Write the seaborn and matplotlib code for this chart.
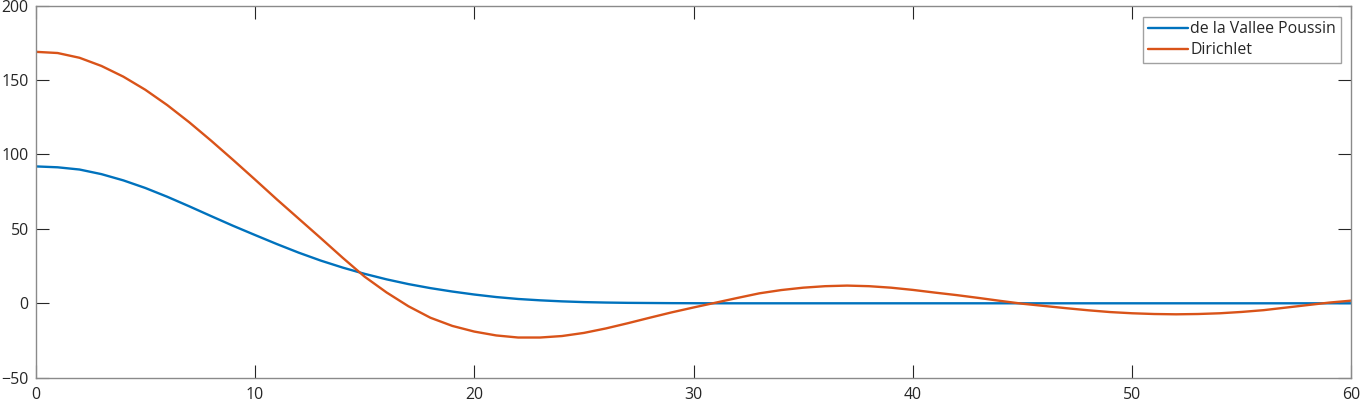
import numpy as np
import pandas as pd
import matplotlib
matplotlib.use('Agg')
import matplotlib.pyplot as plt
import seaborn as sns

# values (one sample per unit on x)
x_vals = list(range(0, 61))

poussin = [92.0, 91.4, 89.9, 86.8, 82.6, 77.5, 71.6, 65.2, 58.6, 52.1,
           45.9, 39.8, 34.0, 28.7, 24.0, 19.8, 16.1, 12.9, 10.2, 7.9,
           5.9, 4.2, 2.9, 2.0, 1.3, 0.8, 0.5, 0.3, 0.2, 0.1,
           0.05, 0.0, 0.0, 0.0, 0.0, 0.0, 0.0, 0.0, 0.0, 0.0,
           0.0, 0.0, 0.0, 0.0, 0.0, 0.0, 0.0, 0.0, 0.0, 0.0,
           0.0, 0.0, 0.0, 0.0, 0.0, 0.0, 0.0, 0.0, 0.0, 0.0, 0.0]

dirichlet = [169.0, 168.2, 165.0, 159.5, 152.3, 143.5, 133.2, 121.7, 109.3, 96.4,
             83.2, 69.8, 56.8, 43.8, 30.6, 17.9, 7.3, -2.0, -9.7, -15.2,
             -19.0, -21.6, -23.0, -23.0, -22.0, -19.9, -16.9, -13.4, -9.7, -6.1,
             -2.8, 0.4, 3.6, 6.7, 8.9, 10.5, 11.5, 11.9, 11.5, 10.5,
             9.0, 7.2, 5.5, 3.6, 1.6, -0.3, -1.8, -3.3, -4.7, -5.9,
             -6.7, -7.2, -7.4, -7.2, -6.7, -5.8, -4.6, -2.9, -1.2, 0.5, 1.8]

series_names = ['de la Vallee Poussin', 'Dirichlet']
series_colors = ['#0072BD', '#D95319']

x_ticks = [0, 10, 20, 30, 40, 50, 60]
y_ticks = [-50, 0, 50, 100, 150, 200]

sns.set_theme(style='white')
plt.rcParams['font.family'] = ['Open Sans', 'DejaVu Sans']

fig = plt.figure(figsize=(13.61, 4.04), dpi=100)
ax = fig.add_axes([0.0262, 0.0651, 0.9668, 0.9208])

sns.lineplot(x=x_vals, y=poussin, ax=ax, color=series_colors[0],
             linewidth=1.7, label=series_names[0],
             solid_joinstyle='round', solid_capstyle='round')
sns.lineplot(x=x_vals, y=dirichlet, ax=ax, color=series_colors[1],
             linewidth=1.7, label=series_names[1],
             solid_joinstyle='round', solid_capstyle='round')

ax.set_xlim(0, 60)
ax.set_ylim(-50, 200)
ax.set_xticks(x_ticks)
ax.set_yticks(y_ticks)

for side in ['left', 'right', 'top', 'bottom']:
    ax.spines[side].set_visible(True)
    ax.spines[side].set_color('#8a8a8a')
    ax.spines[side].set_linewidth(1.0)

ax.tick_params(axis='both', which='major', direction='in', length=9.5,
               width=0.8, color='#262626', labelcolor='#262626',
               labelsize=11.4, top=True, right=True, bottom=True, left=True)
ax.tick_params(axis='x', pad=7)
ax.tick_params(axis='y', pad=5)

leg = ax.legend(loc='upper right', bbox_to_anchor=(0.9918, 0.9704),
                borderaxespad=0, fontsize=11.4, frameon=True, fancybox=False,
                handlelength=2.5, handletextpad=0.15, labelspacing=0.3,
                borderpad=0.3)
leg.get_frame().set_edgecolor('#8a8a8a')
leg.get_frame().set_linewidth(1.0)
for t in leg.get_texts():
    t.set_color('#262626')

fig.savefig('out.png', dpi=100)
